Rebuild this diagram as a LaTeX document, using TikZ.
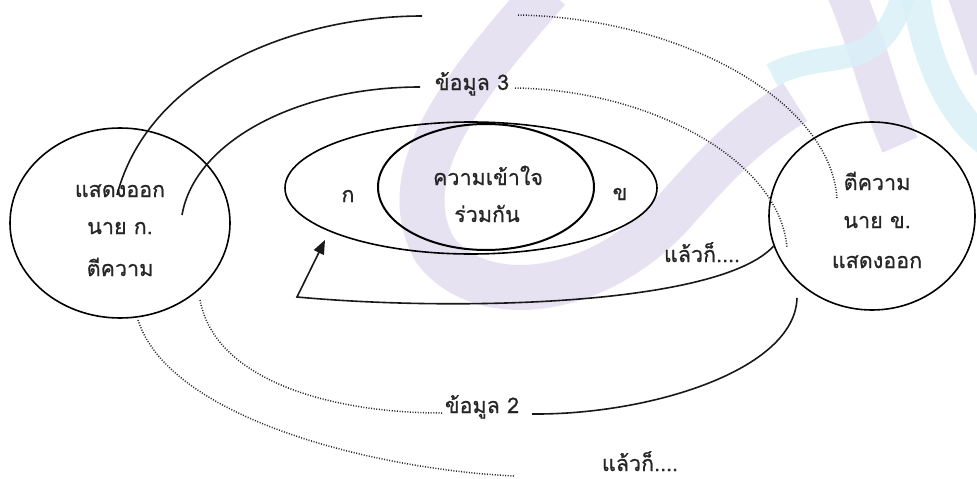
\documentclass[tikz,border=0pt]{standalone}
\usepackage{fontspec}
\newfontfamily\thaifont[Script=Thai,FakeBold=0.6]{Loma}
\usetikzlibrary{shapes.geometric,arrows.meta}
\definecolor{lav}{RGB}{231,226,241}
\definecolor{cya}{RGB}{218,240,247}
\begin{document}
\begin{tikzpicture}[x=1pt,y=-1pt,
  every node/.style={font=\thaifont\fontsize{21.5}{24}\selectfont, text=black!85},
  circ/.style={draw, ellipse, line width=1.6pt, inner sep=0pt},
  sline/.style={line width=1.6pt, black!90},
  dotline/.style={line width=1.5pt, black!85, dash pattern=on 1pt off 1.6pt},
  lbl/.style={anchor=base, inner sep=1pt},
  ribbon/.style={line cap=butt}]
\fill[white] (0,0) rectangle (977,479);
\useasboundingbox (0,0) rectangle (977,479);
% watermark
\begin{scope}
\clip (0,0) rectangle (977,479);
\draw[lav, ribbon, line width=45pt] (548,-10) .. controls (470,80) and (390,170) .. (435,250) .. controls (480,310) and (600,300) .. (680,205) .. controls (720,160) and (750,130) .. (795,102);
\draw[lav, ribbon, line width=38pt] (845,-10) .. controls (870,50) and (880,100) .. (900,145);
\draw[lav, ribbon, line width=32pt] (962,-10) -- (990,70);
\draw[cya, ribbon, line width=24pt, opacity=0.85] (772,75) .. controls (830,45) and (880,80) .. (905,-10);
\draw[cya, ribbon, line width=28pt, opacity=0.85] (915,-10) .. controls (925,60) and (950,115) .. (990,145);
\end{scope}
% main shapes
\node[circ, minimum width=220pt, minimum height=190pt] (A) at (120,223) {};
\node[circ, minimum width=206pt, minimum height=188pt] (B) at (872,216) {};
\node[circ, minimum width=372pt, minimum height=132pt] (C) at (471,188) {};
\node[circ, line width=2pt, minimum width=216pt, minimum height=126pt] (D) at (486,187) {};
% texts
\node[lbl] (a1) at (120,197) {แสดงออก};
\node[lbl] (a2) at (120,234) {นาย ก.};
\node[lbl] (a3) at (120,276) {ตีความ};
\node[lbl] (b1) at (877,190) {ตีความ};
\node[lbl] (b2) at (877,228) {นาย ข.};
\node[lbl] (b3) at (877,268) {แสดงออก};
\node[lbl] (c1) at (488,185) {ความเข้าใจ};
\node[lbl] (c2) at (487,222) {ร่วมกัน};
\node[lbl] (k1) at (348,202) {ก};
\node[lbl] (k2) at (620,200) {ข};
\node[lbl] (d3) at (472,90) {ข้อมูล 3};
\node[lbl] (d2) at (482,413) {ข้อมูล 2};
\node[lbl] (t1) at (702,262) {แล้วก็....};
\node[lbl] (t2) at (640,471) {แล้วก็....};
% coordinates
\coordinate (p0) at (117,195);
\coordinate (p1) at (422,16);
\coordinate (q0) at (518,15);
\coordinate (q1) at (837,198);
\coordinate (u0) at (182,215);
\coordinate (u1) at (420,87);
\coordinate (v0) at (515,88);
\coordinate (v1) at (787,248);
\coordinate (r0) at (297,297);
\coordinate (r1) at (325,240);
\coordinate (s0) at (797,298);
\coordinate (s1) at (532,414);
\coordinate (w0) at (200,300);
\coordinate (w1) at (442,413);
\coordinate (z0) at (138,320);
\coordinate (z1) at (515,476);
% connectors
\draw[sline] (p0) .. controls (150,70) and (300,16) .. (p1);
\draw[dotline] (q0) .. controls (680,18) and (830,100) .. (q1);
\draw[sline] (u0) .. controls (195,140) and (300,87) .. (u1);
\draw[dotline] (v0) .. controls (650,90) and (780,160) .. (v1);
\draw[sline, -{Triangle[length=14pt,width=11pt]}] (B.197) .. controls (720,305) and (460,312) .. (r0) -- (r1);
\draw[sline] (s0) .. controls (795,370) and (650,415) .. (s1);
\draw[dotline] (w0) .. controls (215,380) and (330,413) .. (w1);
\draw[dotline] (z0) .. controls (170,420) and (380,470) .. (z1);
\end{tikzpicture}
\end{document}
